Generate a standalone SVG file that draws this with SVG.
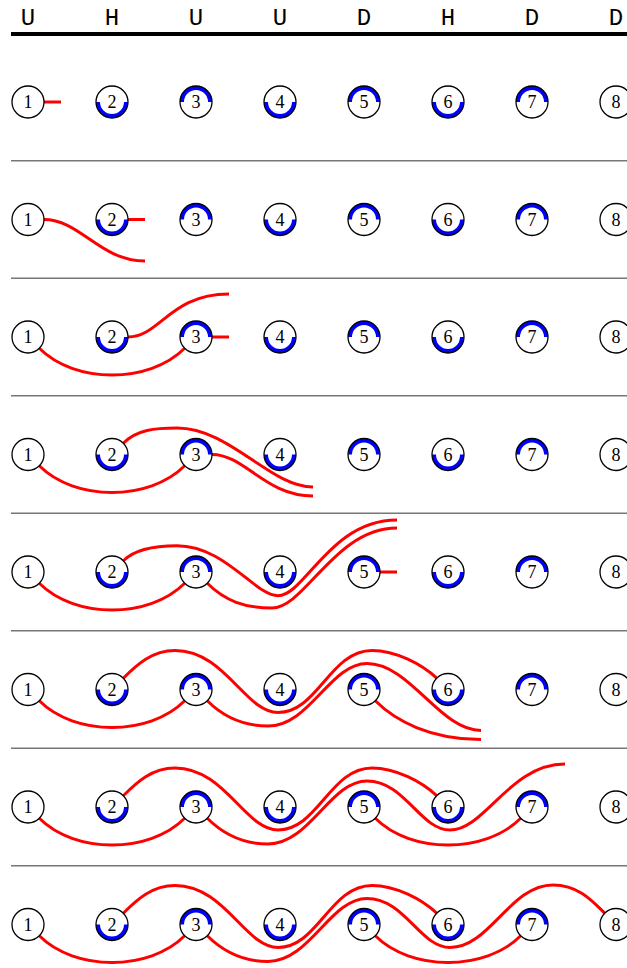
<svg xmlns="http://www.w3.org/2000/svg" width="627" height="968" viewBox="0 0 627 968">
<style>
.sep{stroke:#777;stroke-width:1.5}
.s{fill:none;stroke:#f00;stroke-width:3;stroke-linecap:butt}
.n circle{fill:#fff;stroke:none}
.n .o{fill:none;stroke:#000;stroke-width:1.3}
.n .b{fill:none;stroke:#00f;stroke-width:4}
</style>
<defs>
<path id="A" d="M39.3,11.3 C74.9,46.9 149.1,46.9 184.7,11.3"/>
<path id="S2" d="M123.3,-11.3 C137,-25 152,-39 175,-39 C225,-39 245,23 278,23 C318,23 330,-39 372,-39 C396,-39 422,-25 436.7,-11.3"/>
<path id="S5" d="M375.3,11.3 C410.9,46.9 485.1,46.9 520.7,11.3"/>
<path id="BOT" d="M-14,0 A14,14 0 0 0 14,0"/>
<path id="TOP" d="M-14,0 A14,14 0 0 1 14,0"/>
</defs>
<rect width="627" height="968" fill="#fff"/>
<g id="header" font-family="Liberation Mono, Courier New, monospace" font-size="24" text-anchor="middle" fill="#000">
<text x="28" y="25">U</text>
<text x="112" y="25">H</text>
<text x="196" y="25">U</text>
<text x="280" y="25">U</text>
<text x="364" y="25">D</text>
<text x="448" y="25">H</text>
<text x="532" y="25">D</text>
<text x="616" y="25">D</text>
<line x1="11" y1="34" x2="627" y2="34" stroke="#000" stroke-width="4"/>
</g>
<g id="separators">
<line class="sep" x1="11" y1="160.75" x2="627" y2="160.75"/>
<line class="sep" x1="11" y1="278.25" x2="627" y2="278.25"/>
<line class="sep" x1="11" y1="395.75" x2="627" y2="395.75"/>
<line class="sep" x1="11" y1="513.25" x2="627" y2="513.25"/>
<line class="sep" x1="11" y1="630.75" x2="627" y2="630.75"/>
<line class="sep" x1="11" y1="748.25" x2="627" y2="748.25"/>
<line class="sep" x1="11" y1="865.75" x2="627" y2="865.75"/>
</g>
<g id="connectors">
<g transform="translate(0,102)">
<path class="s" d="M44,0 H61"/>
</g>
<g transform="translate(0,219.5)">
<path class="s" d="M44,0 C80,0 100,41.5 145,41.5"/>
<path class="s" d="M128,0 H145"/>
</g>
<g transform="translate(0,337)">
<use href="#A" class="s"/>
<path class="s" d="M128,0 C160,0 170,-43 229,-43"/>
<path class="s" d="M212,0 H229"/>
</g>
<g transform="translate(0,454.5)">
<use href="#A" class="s"/>
<path class="s" d="M123.3,-11.3 C137,-25 155,-26.5 177,-26.5 C230,-26.5 270,32.5 313,32.5"/>
<path class="s" d="M212,0 C245,0 265,41.5 313,41.5"/>
</g>
<g transform="translate(0,572)">
<use href="#A" class="s"/>
<path class="s" d="M123.3,-11.3 C135,-23 155,-26.3 177,-26.3 C225,-26.3 255,23.7 278,23.7 C305,23.7 330,-52 397,-52"/>
<path class="s" d="M207.3,11.3 C225,29 245,36 272,36 C305,36 335,-44 397,-44"/>
<path class="s" d="M380,0 H397"/>
</g>
<g transform="translate(0,689.5)">
<use href="#A" class="s"/>
<use href="#S2" class="s"/>
<path class="s" d="M207.3,11.3 C222,26 243,36.5 268,36.5 C310,36.5 330,-26 367,-26 C410,-26 440,41 481,41"/>
<path class="s" d="M375.3,11.3 C395,31 430,50 481,50"/>
</g>
<g transform="translate(0,807)">
<use href="#A" class="s"/>
<use href="#S2" class="s"/>
<path class="s" d="M207.3,11.3 C222,26 243,37 268,37 C310,37 330,-26 367,-26 C405,-26 420,23 450,23 C485,23 510,-43 565,-43"/>
<use href="#S5" class="s"/>
</g>
<g transform="translate(0,924.5)">
<use href="#A" class="s"/>
<use href="#S2" class="s"/>
<path class="s" d="M207.3,11.3 C222,26 243,37 268,37 C310,37 330,-26 367,-26 C405,-26 420,23 450,23 C490,23 510,-39.5 553,-39.5 C578,-39.5 592,-24 604.7,-11.3"/>
<use href="#S5" class="s"/>
</g>
</g>
<g id="nodes" font-family="Liberation Serif, Times New Roman, serif" font-size="18" text-anchor="middle" fill="#000">
<g id="r1n1" class="n" transform="translate(28,102)"><circle r="16"/><circle class="o" r="16"/><text y="6">1</text></g>
<g id="r1n2" class="n" transform="translate(112,102)"><circle r="16"/><use href="#BOT" class="b"/><circle class="o" r="16"/><text y="6">2</text></g>
<g id="r1n3" class="n" transform="translate(196,102)"><circle r="16"/><use href="#TOP" class="b"/><circle class="o" r="16"/><text y="6">3</text></g>
<g id="r1n4" class="n" transform="translate(280,102)"><circle r="16"/><use href="#BOT" class="b"/><circle class="o" r="16"/><text y="6">4</text></g>
<g id="r1n5" class="n" transform="translate(364,102)"><circle r="16"/><use href="#TOP" class="b"/><circle class="o" r="16"/><text y="6">5</text></g>
<g id="r1n6" class="n" transform="translate(448,102)"><circle r="16"/><use href="#BOT" class="b"/><circle class="o" r="16"/><text y="6">6</text></g>
<g id="r1n7" class="n" transform="translate(532,102)"><circle r="16"/><use href="#TOP" class="b"/><circle class="o" r="16"/><text y="6">7</text></g>
<g id="r1n8" class="n" transform="translate(616,102)"><circle r="16"/><circle class="o" r="16"/><text y="6">8</text></g>

<g id="r2n1" class="n" transform="translate(28,219.5)"><circle r="16"/><circle class="o" r="16"/><text y="6">1</text></g>
<g id="r2n2" class="n" transform="translate(112,219.5)"><circle r="16"/><use href="#BOT" class="b"/><circle class="o" r="16"/><text y="6">2</text></g>
<g id="r2n3" class="n" transform="translate(196,219.5)"><circle r="16"/><use href="#TOP" class="b"/><circle class="o" r="16"/><text y="6">3</text></g>
<g id="r2n4" class="n" transform="translate(280,219.5)"><circle r="16"/><use href="#BOT" class="b"/><circle class="o" r="16"/><text y="6">4</text></g>
<g id="r2n5" class="n" transform="translate(364,219.5)"><circle r="16"/><use href="#TOP" class="b"/><circle class="o" r="16"/><text y="6">5</text></g>
<g id="r2n6" class="n" transform="translate(448,219.5)"><circle r="16"/><use href="#BOT" class="b"/><circle class="o" r="16"/><text y="6">6</text></g>
<g id="r2n7" class="n" transform="translate(532,219.5)"><circle r="16"/><use href="#TOP" class="b"/><circle class="o" r="16"/><text y="6">7</text></g>
<g id="r2n8" class="n" transform="translate(616,219.5)"><circle r="16"/><circle class="o" r="16"/><text y="6">8</text></g>

<g id="r3n1" class="n" transform="translate(28,337)"><circle r="16"/><circle class="o" r="16"/><text y="6">1</text></g>
<g id="r3n2" class="n" transform="translate(112,337)"><circle r="16"/><use href="#BOT" class="b"/><circle class="o" r="16"/><text y="6">2</text></g>
<g id="r3n3" class="n" transform="translate(196,337)"><circle r="16"/><use href="#TOP" class="b"/><circle class="o" r="16"/><text y="6">3</text></g>
<g id="r3n4" class="n" transform="translate(280,337)"><circle r="16"/><use href="#BOT" class="b"/><circle class="o" r="16"/><text y="6">4</text></g>
<g id="r3n5" class="n" transform="translate(364,337)"><circle r="16"/><use href="#TOP" class="b"/><circle class="o" r="16"/><text y="6">5</text></g>
<g id="r3n6" class="n" transform="translate(448,337)"><circle r="16"/><use href="#BOT" class="b"/><circle class="o" r="16"/><text y="6">6</text></g>
<g id="r3n7" class="n" transform="translate(532,337)"><circle r="16"/><use href="#TOP" class="b"/><circle class="o" r="16"/><text y="6">7</text></g>
<g id="r3n8" class="n" transform="translate(616,337)"><circle r="16"/><circle class="o" r="16"/><text y="6">8</text></g>

<g id="r4n1" class="n" transform="translate(28,454.5)"><circle r="16"/><circle class="o" r="16"/><text y="6">1</text></g>
<g id="r4n2" class="n" transform="translate(112,454.5)"><circle r="16"/><use href="#BOT" class="b"/><circle class="o" r="16"/><text y="6">2</text></g>
<g id="r4n3" class="n" transform="translate(196,454.5)"><circle r="16"/><use href="#TOP" class="b"/><circle class="o" r="16"/><text y="6">3</text></g>
<g id="r4n4" class="n" transform="translate(280,454.5)"><circle r="16"/><use href="#BOT" class="b"/><circle class="o" r="16"/><text y="6">4</text></g>
<g id="r4n5" class="n" transform="translate(364,454.5)"><circle r="16"/><use href="#TOP" class="b"/><circle class="o" r="16"/><text y="6">5</text></g>
<g id="r4n6" class="n" transform="translate(448,454.5)"><circle r="16"/><use href="#BOT" class="b"/><circle class="o" r="16"/><text y="6">6</text></g>
<g id="r4n7" class="n" transform="translate(532,454.5)"><circle r="16"/><use href="#TOP" class="b"/><circle class="o" r="16"/><text y="6">7</text></g>
<g id="r4n8" class="n" transform="translate(616,454.5)"><circle r="16"/><circle class="o" r="16"/><text y="6">8</text></g>

<g id="r5n1" class="n" transform="translate(28,572)"><circle r="16"/><circle class="o" r="16"/><text y="6">1</text></g>
<g id="r5n2" class="n" transform="translate(112,572)"><circle r="16"/><use href="#BOT" class="b"/><circle class="o" r="16"/><text y="6">2</text></g>
<g id="r5n3" class="n" transform="translate(196,572)"><circle r="16"/><use href="#TOP" class="b"/><circle class="o" r="16"/><text y="6">3</text></g>
<g id="r5n4" class="n" transform="translate(280,572)"><circle r="16"/><use href="#BOT" class="b"/><circle class="o" r="16"/><text y="6">4</text></g>
<g id="r5n5" class="n" transform="translate(364,572)"><circle r="16"/><use href="#TOP" class="b"/><circle class="o" r="16"/><text y="6">5</text></g>
<g id="r5n6" class="n" transform="translate(448,572)"><circle r="16"/><use href="#BOT" class="b"/><circle class="o" r="16"/><text y="6">6</text></g>
<g id="r5n7" class="n" transform="translate(532,572)"><circle r="16"/><use href="#TOP" class="b"/><circle class="o" r="16"/><text y="6">7</text></g>
<g id="r5n8" class="n" transform="translate(616,572)"><circle r="16"/><circle class="o" r="16"/><text y="6">8</text></g>

<g id="r6n1" class="n" transform="translate(28,689.5)"><circle r="16"/><circle class="o" r="16"/><text y="6">1</text></g>
<g id="r6n2" class="n" transform="translate(112,689.5)"><circle r="16"/><use href="#BOT" class="b"/><circle class="o" r="16"/><text y="6">2</text></g>
<g id="r6n3" class="n" transform="translate(196,689.5)"><circle r="16"/><use href="#TOP" class="b"/><circle class="o" r="16"/><text y="6">3</text></g>
<g id="r6n4" class="n" transform="translate(280,689.5)"><circle r="16"/><use href="#BOT" class="b"/><circle class="o" r="16"/><text y="6">4</text></g>
<g id="r6n5" class="n" transform="translate(364,689.5)"><circle r="16"/><use href="#TOP" class="b"/><circle class="o" r="16"/><text y="6">5</text></g>
<g id="r6n6" class="n" transform="translate(448,689.5)"><circle r="16"/><use href="#BOT" class="b"/><circle class="o" r="16"/><text y="6">6</text></g>
<g id="r6n7" class="n" transform="translate(532,689.5)"><circle r="16"/><use href="#TOP" class="b"/><circle class="o" r="16"/><text y="6">7</text></g>
<g id="r6n8" class="n" transform="translate(616,689.5)"><circle r="16"/><circle class="o" r="16"/><text y="6">8</text></g>

<g id="r7n1" class="n" transform="translate(28,807)"><circle r="16"/><circle class="o" r="16"/><text y="6">1</text></g>
<g id="r7n2" class="n" transform="translate(112,807)"><circle r="16"/><use href="#BOT" class="b"/><circle class="o" r="16"/><text y="6">2</text></g>
<g id="r7n3" class="n" transform="translate(196,807)"><circle r="16"/><use href="#TOP" class="b"/><circle class="o" r="16"/><text y="6">3</text></g>
<g id="r7n4" class="n" transform="translate(280,807)"><circle r="16"/><use href="#BOT" class="b"/><circle class="o" r="16"/><text y="6">4</text></g>
<g id="r7n5" class="n" transform="translate(364,807)"><circle r="16"/><use href="#TOP" class="b"/><circle class="o" r="16"/><text y="6">5</text></g>
<g id="r7n6" class="n" transform="translate(448,807)"><circle r="16"/><use href="#BOT" class="b"/><circle class="o" r="16"/><text y="6">6</text></g>
<g id="r7n7" class="n" transform="translate(532,807)"><circle r="16"/><use href="#TOP" class="b"/><circle class="o" r="16"/><text y="6">7</text></g>
<g id="r7n8" class="n" transform="translate(616,807)"><circle r="16"/><circle class="o" r="16"/><text y="6">8</text></g>

<g id="r8n1" class="n" transform="translate(28,924.5)"><circle r="16"/><circle class="o" r="16"/><text y="6">1</text></g>
<g id="r8n2" class="n" transform="translate(112,924.5)"><circle r="16"/><use href="#BOT" class="b"/><circle class="o" r="16"/><text y="6">2</text></g>
<g id="r8n3" class="n" transform="translate(196,924.5)"><circle r="16"/><use href="#TOP" class="b"/><circle class="o" r="16"/><text y="6">3</text></g>
<g id="r8n4" class="n" transform="translate(280,924.5)"><circle r="16"/><use href="#BOT" class="b"/><circle class="o" r="16"/><text y="6">4</text></g>
<g id="r8n5" class="n" transform="translate(364,924.5)"><circle r="16"/><use href="#TOP" class="b"/><circle class="o" r="16"/><text y="6">5</text></g>
<g id="r8n6" class="n" transform="translate(448,924.5)"><circle r="16"/><use href="#BOT" class="b"/><circle class="o" r="16"/><text y="6">6</text></g>
<g id="r8n7" class="n" transform="translate(532,924.5)"><circle r="16"/><use href="#TOP" class="b"/><circle class="o" r="16"/><text y="6">7</text></g>
<g id="r8n8" class="n" transform="translate(616,924.5)"><circle r="16"/><circle class="o" r="16"/><text y="6">8</text></g>
</g>
</svg>
